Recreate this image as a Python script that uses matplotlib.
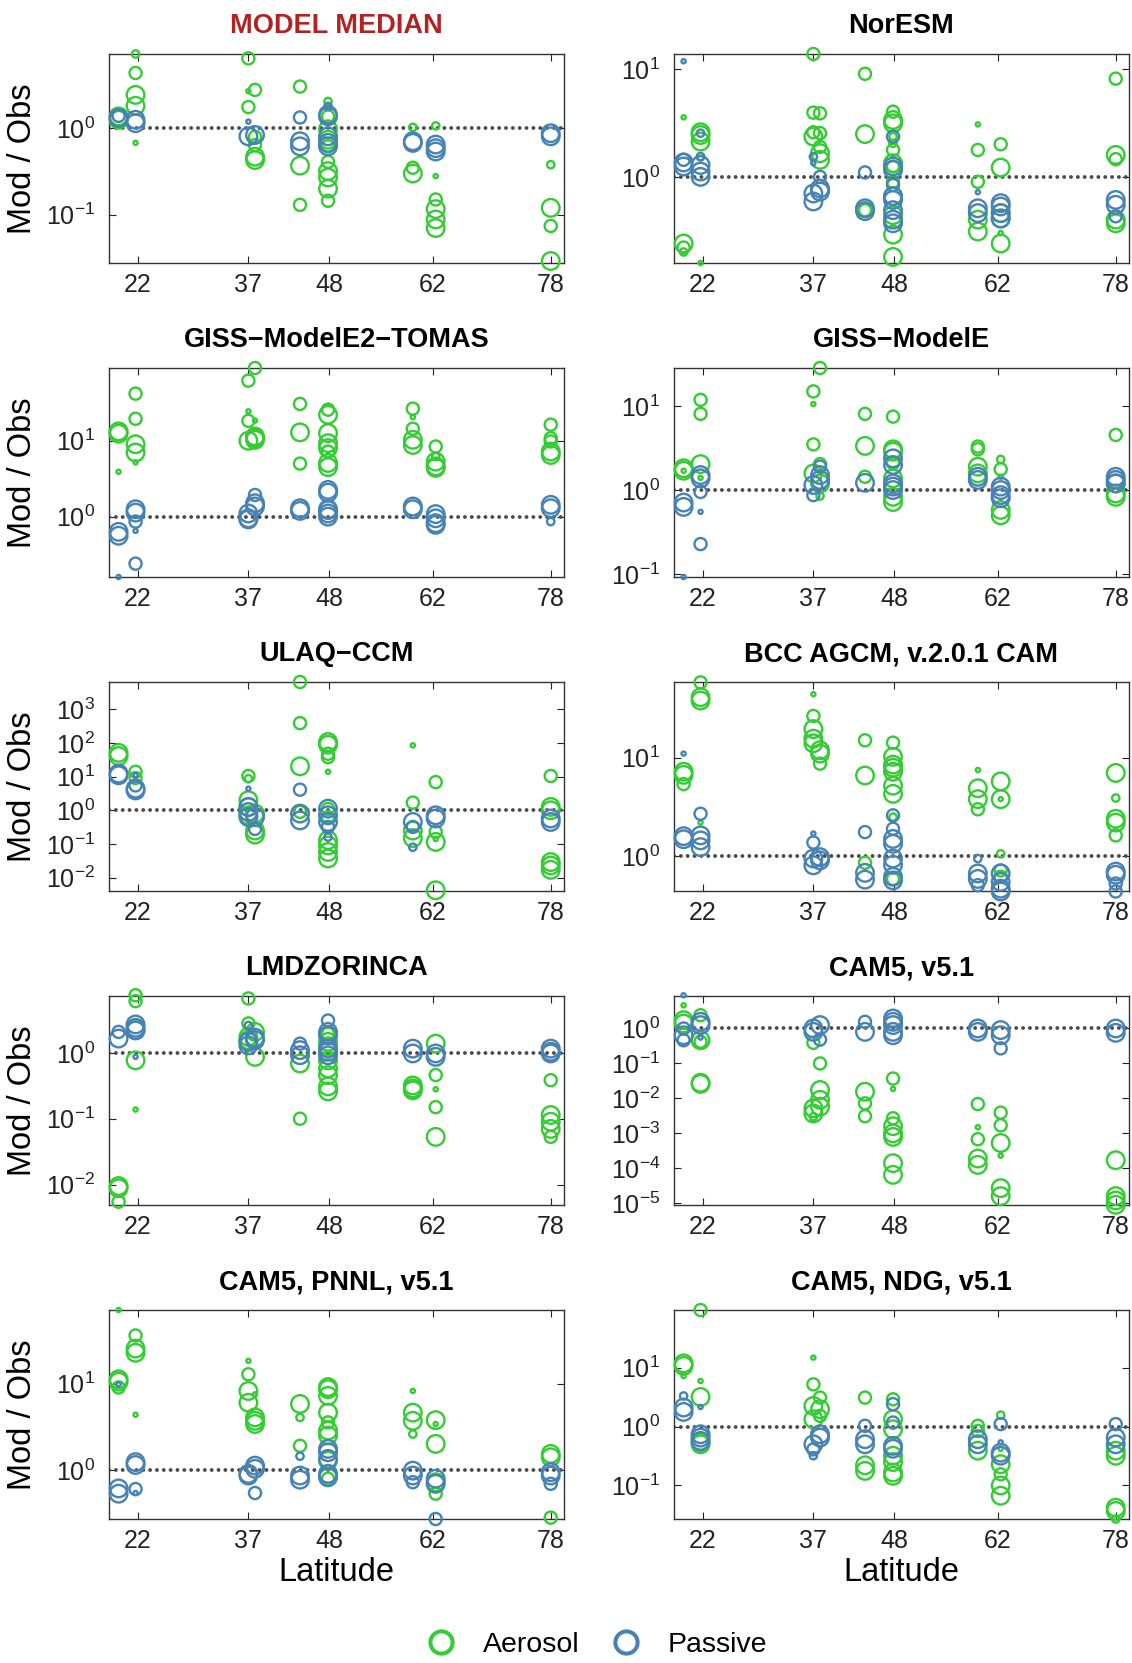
#!/usr/bin/env python3
import matplotlib
matplotlib.use("Agg")
import matplotlib.pyplot as plt
from matplotlib.lines import Line2D
from matplotlib.ticker import FixedLocator, FixedFormatter, NullLocator

# (latitude, Mod/Obs, size class 1..4)
MEDIAN_AER = [(19.4, 1.38, 4), (19.4, 1.26, 4),
              (21.7, 7.3, 2), (21.7, 4.4, 3), (21.7, 2.45, 4), (21.7, 1.83, 4), (21.7, 0.68, 1),
              (37.0, 6.5, 3), (37.0, 1.77, 3), (37.0, 2.7, 1),
              (37.9, 2.8, 3), (37.9, 0.47, 4), (37.9, 0.43, 4), (37.9, 0.8, 3), (37.9, 0.64, 3),
              (44.0, 3.06, 3), (44.0, 0.37, 4), (44.0, 0.13, 3),
              (47.8, 2.05, 2), (47.8, 0.98, 4), (47.8, 0.74, 4), (47.8, 0.41, 3), (47.8, 0.32, 4),
              (47.8, 0.27, 4), (47.8, 0.2, 4), (47.8, 0.145, 3), (47.8, 0.62, 3), (47.8, 1.38, 3),
              (59.3, 1.03, 2), (59.3, 0.35, 3), (59.3, 0.30, 4),
              (62.4, 1.07, 2), (62.4, 0.28, 1), (62.4, 0.15, 3), (62.4, 0.116, 4), (62.4, 0.088, 4), (62.4, 0.07, 4),
              (78.0, 0.38, 2), (78.0, 0.12, 4), (78.0, 0.074, 3), (78.0, 0.029, 4)]
MEDIAN_PAS = [(19.4, 1.32, 4), (19.4, 1.4, 3),
              (21.7, 1.26, 4), (21.7, 1.15, 4),
              (37.0, 1.2, 1), (37.0, 0.81, 4), (37.9, 0.84, 4),
              (44.0, 1.34, 3), (44.0, 0.71, 4), (44.0, 0.62, 4),
              (47.8, 1.8, 2), (47.8, 1.44, 4), (47.8, 1.38, 4), (47.8, 0.81, 4), (47.8, 0.62, 4), (47.8, 0.68, 4),
              (59.3, 0.71, 4), (59.3, 0.68, 4),
              (62.4, 0.65, 4), (62.4, 0.54, 4), (62.4, 0.59, 4),
              (78.0, 0.88, 4), (78.0, 0.81, 4)]

NORESM_AER = [(19.4, 3.58, 1), (19.4, 0.24, 4), (19.4, 0.22, 3), (19.4, 0.2, 2),
              (21.7, 2.6, 4), (21.7, 2.45, 4), (21.7, 2.13, 4), (21.7, 1.54, 2), (21.7, 0.158, 1),
              (37.0, 13.9, 3), (37.0, 3.96, 3), (37.0, 2.37, 4), (37.0, 2.6, 3),
              (37.9, 3.9, 3), (37.9, 2.55, 3), (37.9, 1.66, 4), (37.9, 1.44, 4), (37.9, 1.9, 3),
              (44.0, 9.1, 3), (44.0, 2.5, 4), (44.0, 0.49, 3),
              (47.8, 4.04, 3), (47.8, 3.38, 4), (47.8, 3.15, 4), (47.8, 2.37, 2), (47.8, 2.05, 2),
              (47.8, 1.78, 3), (47.8, 1.34, 4), (47.8, 1.25, 3), (47.8, 0.9, 3), (47.8, 0.66, 4),
              (47.8, 0.44, 4), (47.8, 0.29, 4), (47.8, 0.18, 4),
              (59.3, 3.08, 1), (59.3, 1.78, 3), (59.3, 0.9, 3), (59.3, 0.4, 4), (59.3, 0.31, 4),
              (62.4, 2.01, 3), (62.4, 1.22, 4), (62.4, 0.46, 4), (62.4, 0.41, 4), (62.4, 0.24, 4), (62.4, 0.3, 1),
              (78.0, 8.2, 3), (78.0, 1.6, 4), (78.0, 1.46, 3), (78.0, 0.4, 4), (78.0, 0.37, 4)]
NORESM_PAS = [(19.4, 11.9, 1), (19.4, 1.36, 4), (19.4, 1.25, 4), (19.4, 1.44, 3),
              (21.7, 2.55, 2), (21.7, 1.54, 2), (21.7, 1.29, 4), (21.7, 1.12, 4), (21.7, 1.0, 4),
              (37.0, 1.54, 2), (37.0, 1.34, 1), (37.0, 0.7, 4), (37.0, 0.59, 4),
              (37.9, 1.0, 3), (37.9, 0.78, 4), (37.9, 0.73, 4),
              (44.0, 1.1, 3), (44.0, 0.51, 4), (44.0, 0.48, 4),
              (47.8, 2.37, 3), (47.8, 1.25, 4), (47.8, 1.16, 4), (47.8, 0.84, 3), (47.8, 0.66, 4),
              (47.8, 0.61, 4), (47.8, 0.49, 4), (47.8, 0.4, 4), (47.8, 0.37, 4),
              (59.3, 0.72, 1), (59.3, 0.51, 4), (59.3, 0.46, 4),
              (62.4, 0.57, 4), (62.4, 0.53, 4), (62.4, 0.46, 4), (62.4, 0.41, 4),
              (78.0, 0.61, 4), (78.0, 0.55, 4), (78.0, 0.43, 3)]

TOMAS_AER = [(19.4, 13.3, 4), (19.4, 12.4, 4), (19.4, 3.9, 1),
             (21.7, 41.8, 3), (21.7, 19.5, 3), (21.7, 9.0, 4), (21.7, 7.0, 4), (21.7, 5.2, 1),
             (37.0, 62, 3), (37.0, 24.4, 1), (37.0, 18.3, 3), (37.0, 10, 4),
             (37.9, 91, 3), (37.9, 18.5, 1), (37.9, 11.4, 4), (37.9, 10.3, 4), (37.9, 10.8, 4),
             (44.0, 30.6, 3), (44.0, 12.9, 4), (44.0, 5.0, 3),
             (47.8, 25.7, 3), (47.8, 22.0, 4), (47.8, 12.6, 4), (47.8, 9.3, 4), (47.8, 8.0, 4),
             (47.8, 7.2, 3), (47.8, 5.1, 4), (47.8, 4.5, 4),
             (59.3, 26.5, 3), (59.3, 20.5, 1), (59.3, 14.4, 3), (59.3, 10.3, 4), (59.3, 8.8, 4),
             (62.4, 8.4, 3), (62.4, 6.2, 2), (62.4, 5.3, 4), (62.4, 4.6, 4), (62.4, 4.4, 4),
             (78.0, 16.3, 3), (78.0, 10.8, 3), (78.0, 9.8, 3), (78.0, 7.2, 4), (78.0, 6.5, 4)]
TOMAS_PAS = [(19.4, 0.63, 4), (19.4, 0.56, 4), (19.4, 0.16, 1),
             (21.7, 1.25, 4), (21.7, 1.13, 4), (21.7, 0.86, 3), (21.7, 0.65, 1), (21.7, 0.24, 3),
             (37.0, 1.1, 4), (37.0, 0.95, 4), (37.0, 0.92, 4),
             (37.9, 1.93, 3), (37.9, 1.5, 4), (37.9, 1.36, 4),
             (44.0, 1.29, 4), (44.0, 1.19, 4),
             (47.8, 2.25, 4), (47.8, 2.07, 4), (47.8, 1.22, 4), (47.8, 1.1, 4), (47.8, 1.0, 4), (47.8, 1.25, 4),
             (59.3, 1.36, 4), (59.3, 1.25, 4),
             (62.4, 1.08, 4), (62.4, 0.95, 4), (62.4, 0.82, 4), (62.4, 0.78, 4),
             (78.0, 1.43, 4), (78.0, 1.29, 4), (78.0, 0.86, 2)]

MODELE_AER = [(19.4, 1.82, 4), (19.4, 1.7, 4), (19.4, 1.7, 1),
              (21.7, 11.9, 3), (21.7, 8.1, 3), (21.7, 2.04, 4), (21.7, 1.4, 1),
              (37.0, 15, 3), (37.0, 10.6, 1), (37.0, 3.5, 3), (37.0, 1.58, 4), (37.9, 0.85, 2),
              (37.9, 28.5, 3), (37.9, 2.04, 3), (37.9, 1.2, 4),
              (44.0, 8.1, 3), (44.0, 3.36, 4), (44.0, 1.44, 3),
              (47.8, 7.5, 3), (47.8, 3.06, 4), (47.8, 2.87, 4), (47.8, 2.08, 3), (47.8, 1.38, 4),
              (47.8, 0.83, 4), (47.8, 0.72, 4),
              (59.3, 3.3, 3), (59.3, 3.06, 3), (59.3, 1.9, 4), (59.3, 1.58, 4),
              (62.4, 2.32, 2), (62.4, 1.77, 3), (62.4, 0.58, 4), (62.4, 0.5, 4), (62.4, 1.44, 1),
              (78.0, 4.54, 3), (78.0, 1.2, 4), (78.0, 0.91, 4), (78.0, 0.83, 4)]
MODELE_PAS = [(19.4, 0.71, 4), (19.4, 0.63, 4), (19.4, 0.092, 1),
              (21.7, 1.51, 4), (21.7, 1.38, 4), (21.7, 0.95, 3), (21.7, 0.55, 1), (21.7, 0.227, 3),
              (37.0, 1.15, 4), (37.0, 0.87, 3),
              (37.9, 1.9, 3), (37.9, 1.51, 4), (37.9, 1.32, 4),
              (44.0, 1.22, 4),
              (47.8, 2.39, 4), (47.8, 1.99, 4), (47.8, 1.2, 4), (47.8, 1.1, 4), (47.8, 1.0, 4),
              (59.3, 1.44, 4), (59.3, 1.32, 4),
              (62.4, 1.1, 4), (62.4, 1.0, 4), (62.4, 0.87, 4), (62.4, 0.8, 4),
              (78.0, 1.44, 4), (78.0, 1.32, 4), (78.0, 1.2, 4)]

ULAQ_AER = [(19.4, 51, 4), (19.4, 41, 4),
            (21.7, 14, 3), (21.7, 9.1, 3),
            (37.0, 10.5, 3), (37.0, 8.7, 2), (37.0, 2.0, 4), (37.0, 1.25, 4), (37.0, 0.71, 4),
            (37.9, 0.8, 4), (37.9, 0.25, 4), (37.9, 0.19, 4),
            (44.0, 6500, 3), (44.0, 390, 3), (44.0, 20.3, 4), (44.0, 0.9, 3),
            (47.8, 107, 4), (47.8, 89, 4), (47.8, 48, 3), (47.8, 38, 3), (47.8, 14, 1), (47.8, 1.1, 3),
            (47.8, 0.63, 3), (47.8, 0.13, 4), (47.8, 0.09, 4), (47.8, 0.058, 4), (47.8, 0.037, 4),
            (59.3, 85, 1), (59.3, 1.69, 3), (59.3, 0.25, 4), (59.3, 0.15, 4),
            (62.4, 6.9, 3), (62.4, 0.23, 3), (62.4, 0.14, 1), (62.4, 0.115, 4), (62.4, 0.0042, 4),
            (78.0, 10.5, 3), (78.0, 1.26, 4), (78.0, 1.0, 4), (78.0, 0.029, 4), (78.0, 0.023, 4), (78.0, 0.017, 4)]
ULAQ_PAS = [(19.4, 12.3, 4), (19.4, 11, 4),
            (21.7, 4.4, 4), (21.7, 3.9, 4), (21.7, 5.5, 3), (21.7, 11, 1),
            (37.0, 4.4, 1), (37.0, 1.26, 4), (37.0, 0.89, 4), (37.0, 0.63, 4),
            (37.9, 0.63, 4), (37.9, 0.28, 3),
            (44.0, 4.1, 3), (44.0, 0.8, 4), (44.0, 0.5, 4),
            (47.8, 1.12, 4), (47.8, 0.71, 4), (47.8, 0.45, 4), (47.8, 0.32, 3), (47.8, 0.16, 2),
            (59.3, 0.45, 4), (59.3, 0.32, 3), (59.3, 0.08, 2),
            (62.4, 0.71, 4), (62.4, 0.57, 4),
            (78.0, 0.57, 4), (78.0, 0.45, 4)]

BCC_AER = [(19.4, 7.2, 4), (19.4, 6.7, 4), (19.4, 5.4, 3),
           (21.7, 58, 3), (21.7, 41, 4), (21.7, 38, 4), (21.7, 2.2, 1),
           (37.0, 44, 1), (37.0, 26.5, 3), (37.0, 19.5, 4), (37.0, 15.6, 4), (37.0, 14, 4),
           (37.9, 11.9, 4), (37.9, 11, 4), (37.9, 8.7, 3),
           (44.0, 15, 3), (44.0, 6.6, 4), (44.0, 0.86, 3),
           (47.8, 14.2, 3), (47.8, 10.2, 4), (47.8, 8.5, 4), (47.8, 7.9, 4), (47.8, 7.2, 4),
           (47.8, 5.2, 4), (47.8, 4.3, 4), (47.8, 2.5, 2), (47.8, 0.59, 3),
           (59.3, 7.5, 1), (59.3, 4.9, 4), (59.3, 3.8, 4), (59.3, 3.0, 3),
           (62.4, 5.75, 4), (62.4, 3.8, 4), (62.4, 3.8, 1), (62.4, 1.06, 2), (62.4, 0.72, 3), (62.4, 0.62, 3),
           (78.0, 7.0, 4), (78.0, 3.9, 2), (78.0, 2.4, 4), (78.0, 2.2, 4), (78.0, 1.63, 3)]
BCC_PAS = [(19.4, 11, 1), (19.4, 1.6, 4), (19.4, 1.49, 4),
           (21.7, 2.7, 3), (21.7, 1.63, 4), (21.7, 1.45, 4), (21.7, 1.24, 4),
           (37.0, 1.7, 1), (37.0, 1.38, 3), (37.0, 0.81, 4), (37.0, 0.95, 4),
           (37.9, 0.98, 4), (37.9, 0.91, 4),
           (44.0, 1.76, 3), (44.0, 0.68, 4), (44.0, 0.58, 4),
           (47.8, 2.6, 3), (47.8, 1.9, 3), (47.8, 1.5, 4), (47.8, 1.34, 4), (47.8, 0.95, 4),
           (47.8, 0.82, 4), (47.8, 0.62, 4), (47.8, 0.57, 4),
           (59.3, 0.95, 2), (59.3, 0.67, 4), (59.3, 0.59, 4), (59.3, 0.51, 3),
           (62.4, 0.67, 4), (62.4, 0.55, 4), (62.4, 0.47, 4), (62.4, 0.44, 4),
           (78.0, 0.7, 4), (78.0, 0.65, 4), (78.0, 0.53, 3), (78.0, 0.44, 3)]

LMDZ_AER = [(19.4, 0.0095, 4), (19.4, 0.0088, 4), (19.4, 0.0055, 3),
            (21.7, 7.5, 3), (21.7, 6.1, 3), (21.7, 2.2, 4), (21.7, 0.77, 4), (21.7, 0.138, 1),
            (37.0, 6.7, 3), (37.0, 2.8, 3), (37.0, 1.56, 4), (37.0, 1.75, 4),
            (37.9, 2.08, 4), (37.9, 0.87, 4),
            (44.0, 0.69, 4), (44.0, 0.1, 3),
            (47.8, 1.96, 3), (47.8, 1.47, 4), (47.8, 1.26, 4), (47.8, 0.77, 4), (47.8, 0.58, 4),
            (47.8, 0.46, 4), (47.8, 0.31, 4), (47.8, 0.26, 4),
            (59.3, 0.32, 4), (59.3, 0.29, 4), (59.3, 0.27, 4),
            (62.4, 1.38, 4), (62.4, 0.46, 3), (62.4, 0.28, 1), (62.4, 0.15, 3), (62.4, 0.053, 4),
            (78.0, 0.385, 3), (78.0, 0.114, 4), (78.0, 0.09, 4), (78.0, 0.07, 4), (78.0, 0.053, 3)]
LMDZ_PAS = [(19.4, 2.08, 3), (19.4, 1.65, 4),
            (21.7, 2.7, 4), (21.7, 2.4, 4), (21.7, 2.2, 4), (21.7, 0.87, 1),
            (37.0, 2.6, 2), (37.0, 1.47, 4), (37.0, 1.3, 4),
            (37.9, 1.7, 4), (37.9, 1.56, 4),
            (44.0, 1.38, 3), (44.0, 1.1, 4), (44.0, 0.92, 4),
            (47.8, 3.1, 3), (47.8, 2.08, 4), (47.8, 1.85, 4), (47.8, 1.16, 4), (47.8, 1.04, 4), (47.8, 0.92, 4),
            (59.3, 1.16, 4), (59.3, 0.98, 4),
            (62.4, 0.98, 4), (62.4, 0.87, 4),
            (78.0, 1.16, 4), (78.0, 1.04, 4), (78.0, 0.98, 4)]

CAM5_AER = [(19.4, 4.6, 1), (19.4, 1.73, 4), (19.4, 1.39, 4),
            (21.7, 2.4, 3), (21.7, 0.46, 4), (21.7, 0.42, 3), (21.7, 0.028, 4), (21.7, 0.026, 4),
            (37.0, 0.39, 3), (37.0, 0.0052, 4), (37.0, 0.0037, 4), (37.0, 0.003, 2),
            (37.9, 0.1, 3), (37.9, 0.0174, 4), (37.9, 0.0091, 4), (37.9, 0.0058, 4),
            (44.0, 0.0155, 4), (44.0, 0.0072, 3), (44.0, 0.0031, 3),
            (47.8, 0.037, 3), (47.8, 0.0186, 1), (47.8, 0.0027, 3), (47.8, 0.0016, 4), (47.8, 0.001, 4),
            (47.8, 0.00079, 4), (47.8, 0.00014, 4), (47.8, 0.000065, 4),
            (59.3, 0.0069, 3), (59.3, 0.0015, 1), (59.3, 0.00068, 3), (59.3, 0.00019, 4), (59.3, 0.000125, 4),
            (62.4, 0.0039, 3), (62.4, 0.0017, 3), (62.4, 0.00053, 4), (62.4, 0.00023, 1),
            (62.4, 0.000027, 4), (62.4, 0.000016, 4),
            (78.0, 0.00017, 4), (78.0, 0.000016, 4), (78.0, 0.000012, 4), (78.0, 0.000009, 4)]
CAM5_PAS = [(19.4, 8.9, 1), (19.4, 1.0, 3), (19.4, 0.64, 4), (19.4, 0.46, 3),
            (21.7, 1.55, 4), (21.7, 1.25, 4), (21.7, 0.55, 1),
            (37.0, 1.0, 4), (37.0, 0.8, 4),
            (37.9, 1.25, 4), (37.9, 0.48, 3),
            (44.0, 1.55, 3), (44.0, 0.8, 4),
            (47.8, 1.93, 4), (47.8, 1.55, 4), (47.8, 1.25, 4), (47.8, 0.8, 4), (47.8, 0.64, 4),
            (59.3, 1.0, 4), (59.3, 0.8, 4),
            (62.4, 0.9, 4), (62.4, 0.64, 4), (62.4, 0.27, 3),
            (78.0, 1.0, 4), (78.0, 0.75, 4)]

PNNL_AER = [(19.4, 71, 1), (19.4, 11.2, 4), (19.4, 10.5, 4), (19.4, 9.0, 3),
            (21.7, 36, 3), (21.7, 25.4, 4), (21.7, 22.7, 4), (21.7, 4.35, 1),
            (37.0, 18.3, 1), (37.0, 12.8, 3), (37.0, 8.2, 4), (37.0, 6.0, 4),
            (37.9, 7.5, 1), (37.9, 4.05, 4), (37.9, 3.7, 4), (37.9, 3.4, 4),
            (44.0, 5.8, 4), (44.0, 4.05, 2), (44.0, 1.9, 3),
            (47.8, 9.1, 4), (47.8, 8.6, 4), (47.8, 7.2, 4), (47.8, 4.6, 4), (47.8, 3.55, 3),
            (47.8, 2.85, 4), (47.8, 2.5, 4), (47.8, 1.28, 4), (47.8, 0.79, 3),
            (59.3, 8.2, 1), (59.3, 4.6, 4), (59.3, 3.7, 4), (59.3, 2.6, 2),
            (62.4, 3.77, 4), (62.4, 3.4, 1), (62.4, 2.0, 4), (62.4, 0.72, 4), (62.4, 0.53, 3),
            (78.0, 1.53, 4), (78.0, 1.4, 4), (78.0, 0.28, 3)]
PNNL_PAS = [(19.4, 9.8, 1), (19.4, 0.61, 4), (19.4, 0.53, 4),
            (21.7, 1.23, 4), (21.7, 1.14, 4), (21.7, 0.6, 3), (21.7, 0.54, 1),
            (37.0, 0.9, 4), (37.0, 0.86, 4),
            (37.9, 1.12, 4), (37.9, 1.03, 4), (37.9, 0.54, 3),
            (44.0, 1.44, 2), (44.0, 0.86, 4), (44.0, 0.77, 4),
            (47.8, 1.75, 4), (47.8, 1.6, 4), (47.8, 1.34, 4), (47.8, 0.9, 4), (47.8, 0.82, 4),
            (59.3, 0.98, 4), (59.3, 0.86, 4), (59.3, 0.72, 3),
            (62.4, 0.79, 4), (62.4, 0.69, 4), (62.4, 0.27, 3),
            (78.0, 0.94, 4), (78.0, 0.86, 4), (78.0, 0.69, 3)]

NDG_AER = [(19.4, 11.8, 4), (19.4, 10.7, 4), (19.4, 7.2, 1),
           (21.7, 95, 3), (21.7, 5.95, 1), (21.7, 3.18, 4), (21.7, 0.54, 4), (21.7, 0.5, 4),
           (37.0, 14.8, 1), (37.0, 5.2, 3), (37.0, 2.24, 4), (37.0, 1.33, 4),
           (37.9, 3.1, 3), (37.9, 1.97, 4), (37.9, 1.52, 3),
           (44.0, 3.1, 3), (44.0, 0.22, 4), (44.0, 0.177, 4),
           (47.8, 2.9, 3), (47.8, 1.33, 4), (47.8, 0.9, 4), (47.8, 0.32, 4), (47.8, 0.25, 4),
           (47.8, 0.166, 4), (47.8, 0.146, 4),
           (59.3, 1.03, 3), (59.3, 0.84, 3), (59.3, 0.39, 4),
           (62.4, 1.56, 2), (62.4, 0.42, 1), (62.4, 0.23, 4), (62.4, 0.155, 3), (62.4, 0.1, 4), (62.4, 0.067, 4),
           (78.0, 0.39, 4), (78.0, 0.32, 4), (78.0, 0.042, 4), (78.0, 0.037, 4), (78.0, 0.027, 2)]
NDG_PAS = [(19.4, 3.3, 2), (19.4, 2.1, 4), (19.4, 1.77, 4),
           (21.7, 2.15, 1), (21.7, 0.74, 4), (21.7, 0.65, 4), (21.7, 0.57, 4),
           (37.0, 0.5, 4), (37.0, 0.41, 3), (37.0, 0.32, 2),
           (37.9, 0.74, 4), (37.9, 0.65, 4),
           (44.0, 1.03, 3), (44.0, 0.61, 4), (44.0, 0.5, 4),
           (47.8, 2.4, 3), (47.8, 1.17, 3), (47.8, 0.47, 4), (47.8, 0.42, 4),
           (59.3, 0.61, 4), (59.3, 0.5, 4),
           (62.4, 1.1, 3), (62.4, 0.54, 1), (62.4, 0.36, 4), (62.4, 0.32, 4),
           (78.0, 1.1, 3), (78.0, 0.65, 4), (78.0, 0.5, 4)]

TITLES = ["MODEL MEDIAN", "NorESM", "GISS\u2212ModelE2\u2212TOMAS", "GISS\u2212ModelE",
          "ULAQ\u2212CCM", "BCC AGCM, v.2.0.1 CAM", "LMDZORINCA", "CAM5, v5.1",
          "CAM5, PNNL, v5.1", "CAM5, NDG, v5.1"]
PANELS = [(MEDIAN_AER, MEDIAN_PAS), (NORESM_AER, NORESM_PAS), (TOMAS_AER, TOMAS_PAS),
          (MODELE_AER, MODELE_PAS), (ULAQ_AER, ULAQ_PAS), (BCC_AER, BCC_PAS),
          (LMDZ_AER, LMDZ_PAS), (CAM5_AER, CAM5_PAS), (PNNL_AER, PNNL_PAS), (NDG_AER, NDG_PAS)]
YLIMS = [(0.0275, 7.3), (0.158, 13.9), (0.16, 91), (0.092, 28.5), (0.004, 6500),
         (0.445, 58.5), (0.0049, 7.3), (8.9e-6, 8.5), (0.27, 71), (0.027, 95)]
XTICKS = [22, 37, 48, 62, 78]

GREEN = "#33CC33"
BLUE = "#4682B4"
SIZE_PTS = {1: 9, 2: 28, 3: 76, 4: 160}

plt.rcParams.update({
    "font.family": ["Liberation Sans", "DejaVu Sans"],
    "mathtext.fontset": "custom",
    "mathtext.rm": "Liberation Sans",
    "mathtext.it": "Liberation Sans",
    "mathtext.bf": "Liberation Sans:bold",
    "mathtext.default": "regular",
    "axes.linewidth": 1.0,
})


def draw_series(ax, pts, color):
    lat = [p[0] for p in pts]
    val = [p[1] for p in pts]
    size = [SIZE_PTS[p[2]] for p in pts]
    ax.scatter(lat, val, s=size, facecolors="none", edgecolors=color,
               linewidths=1.7, clip_on=False, zorder=3)


fig = plt.figure(figsize=(11.32, 16.63), dpi=100)
W, H = 1132.0, 1663.0
tops = [54, 368, 682, 996, 1310]
lefts = [109, 674]
AX_W, AX_H = 455, 209

for i, (title, (aer, pas), ylim) in enumerate(zip(TITLES, PANELS, YLIMS)):
    row, col = divmod(i, 2)
    ax = fig.add_axes([lefts[col] / W, 1 - (tops[row] + AX_H) / H, AX_W / W, AX_H / H])
    ax.set_yscale("log")
    ax.set_xlim(18.1, 79.8)
    ax.set_ylim(*ylim)
    ax.axhline(1.0, color="#4a4a4a", lw=2.8, linestyle=(0, (0.01, 1.75)),
               dash_capstyle="round", zorder=2)
    draw_series(ax, aer, GREEN)
    draw_series(ax, pas, BLUE)

    decades = [d for d in range(-6, 5) if ylim[0] <= 10.0 ** d <= ylim[1]]
    ax.yaxis.set_major_locator(FixedLocator([10.0 ** d for d in decades]))
    ax.yaxis.set_major_formatter(FixedFormatter([r"$10^{%d}$" % d for d in decades]))
    ax.yaxis.set_minor_locator(NullLocator())
    ax.set_xticks(XTICKS)
    ax.set_xticklabels([str(x) for x in XTICKS])
    ax.tick_params(axis="both", which="major", direction="in", length=5, width=0.8,
                   top=True, right=True, labelsize=18, colors="#222222")
    ax.tick_params(axis="y", pad=10)
    ax.tick_params(axis="x", pad=7)
    for sp in ax.spines.values():
        sp.set_color("#333333")

    ax.set_title(title, fontsize=19.5, fontweight="bold", pad=15,
                 color="#B22222" if i == 0 else "black")
    if col == 0:
        ax.set_ylabel("Mod / Obs", fontsize=23.5)
        ax.yaxis.set_label_coords(-0.155, 0.5)
    if row == 4:
        ax.set_xlabel("Latitude", fontsize=23.5, labelpad=3)

handles = [Line2D([], [], ls="none", marker="o", ms=16, mfc="none", mec=GREEN, mew=2.9),
           Line2D([], [], ls="none", marker="o", ms=16, mfc="none", mec=BLUE, mew=2.9)]
fig.legend(handles, ["Aerosol", "Passive"], loc="center", bbox_to_anchor=(0.521, 0.011),
           ncol=2, frameon=False, fontsize=20.5, handletextpad=0.45, columnspacing=0.65)

fig.savefig("out.png", dpi=100)
